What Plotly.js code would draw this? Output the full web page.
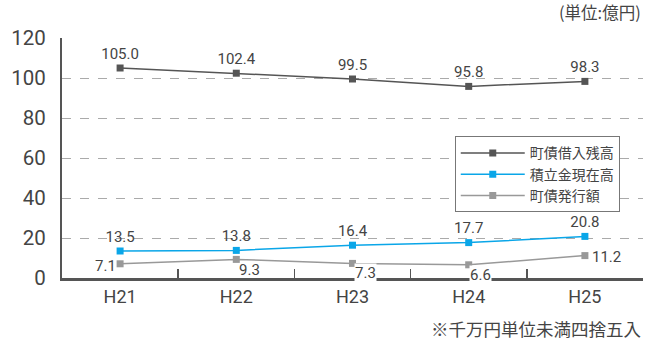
<!DOCTYPE html>
<html><head><meta charset="utf-8">
<script src="https://cdn.plot.ly/plotly-3.0.1.min.js"></script>
<style>html,body{margin:0;padding:0;background:#fff;}#c{width:645px;height:340px;}</style>
</head><body><div id="c"></div>
<script>
const categories = ['H21','H22','H23','H24','H25'];
const seriesNames = ['町債借入残高','積立金現在高','町債発行額'];
const debtBalance = [105.0, 102.4, 99.5, 95.8, 98.3];
const reserveFunds = [13.5, 13.8, 16.4, 17.7, 20.8];
const bondIssuance = [7.1, 9.3, 7.3, 6.6, 11.2];
const yTicks = [0,20,40,60,80,100,120];
const unitLabel = '(単位:億円)';
const footnote = '※千万円単位未満四捨五入';

const numFont = 'Roboto, "Liberation Sans", sans-serif';
const jpFont = '"Noto Sans CJK JP", sans-serif';
const fmt = v => v.toFixed(1);

const traces = [
  {x: categories, y: debtBalance, name: seriesNames[0], type:'scatter', mode:'lines+markers+text',
   line:{color:'#555555', width:1.5}, marker:{symbol:'square', size:7, color:'#555555'},
   text: debtBalance.map(fmt), textposition:'top center',
   textfont:{family:numFont, size:15, color:'#444'}, cliponaxis:false},
  {x: categories, y: reserveFunds, name: seriesNames[1], type:'scatter', mode:'lines+markers+text',
   line:{color:'#0aa6e8', width:1.5}, marker:{symbol:'square', size:7, color:'#0aa6e8'},
   text: reserveFunds.map(fmt), textposition:'top center',
   textfont:{family:numFont, size:15, color:'#444'}, cliponaxis:false},
  {x: categories, y: bondIssuance, name: seriesNames[2], type:'scatter', mode:'lines+markers',
   line:{color:'#999999', width:1.5}, marker:{symbol:'square', size:7, color:'#999999'}, cliponaxis:false}
];

const grayOffsets = [[-15,-2],[13,-11],[13,-10],[12,-10],[22,-1]];
const annotations = bondIssuance.map((v,i)=>({
  x: categories[i], y: v, xref:'x', yref:'y', text: fmt(v), showarrow:false,
  xshift: grayOffsets[i][0], yshift: grayOffsets[i][1],
  bgcolor: (i===2||i===3)?'#ffffff':'rgba(0,0,0,0)', borderpad:0,
  font:{family:numFont, size:15, color:'#444'}
}));
annotations.push({xref:'paper', yref:'paper', x:1, y:1, yshift:12, xanchor:'right', yanchor:'bottom',
  text: unitLabel, showarrow:false, font:{family:jpFont, size:16.5, color:'#444'}});
annotations.push({xref:'paper', yref:'paper', x:1, y:0, yshift:-36, xanchor:'right', yanchor:'top',
  text: footnote, showarrow:false, font:{family:jpFont, size:17.5, color:'#444'}});

const layout = {
  width:645, height:340,
  margin:{l:62, r:2, t:38, b:62},
  paper_bgcolor:'#fff', plot_bgcolor:'#fff',
  showlegend:true,
  legend:{x:0.676, y:0.59, xanchor:'left', yanchor:'top', bgcolor:'#fff',
    bordercolor:'#777', borderwidth:1, font:{family:jpFont, size:14, color:'#444'},
    tracegroupgap:0, itemwidth:64},
  xaxis:{type:'category', range:[-0.5,4.5], showgrid:false, zeroline:false,
    showline:true, linecolor:'#555', linewidth:3,
    ticks:'inside', tickson:'boundaries', ticklen:9, tickcolor:'#555', tickwidth:1.5,
    tickfont:{family:numFont, size:18, color:'#444'}, fixedrange:true},
  yaxis:{range:[0,120], tickvals:yTicks, showgrid:true, gridcolor:'#aaa', griddash:'dash', gridwidth:1,
    zeroline:false, showline:true, linecolor:'#555', linewidth:2, ticks:'',
    ticklabelstandoff:10,
    tickfont:{family:numFont, size:20.5, color:'#444'}, fixedrange:true},
  annotations: annotations
};
Plotly.newPlot('c', traces, layout, {displayModeBar:false, staticPlot:true});
</script></body></html>
